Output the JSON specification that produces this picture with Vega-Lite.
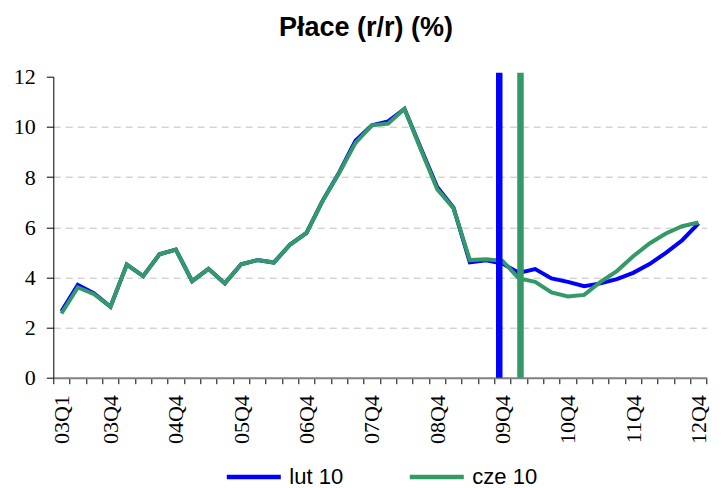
{
  "$schema": "https://vega.github.io/schema/vega-lite/v6.json",
  "width": 653.4,
  "height": 301,
  "autosize": {"type": "none"},
  "padding": {"left": 53.3, "top": 76.7, "right": 15.3, "bottom": 110.3},
  "background": "white",
  "title": {
    "text": "Płace (r/r) (%)",
    "font": "Liberation Sans",
    "fontSize": 27,
    "fontWeight": "bold",
    "color": "black",
    "anchor": "middle",
    "offset": 24,
    "dx": -14
  },
  "datasets": {
    "series": [
      {"i": 0, "q": "03Q1", "series": "lut 10", "value": 2.65},
      {"i": 1, "q": "03Q2", "series": "lut 10", "value": 3.70},
      {"i": 2, "q": "03Q3", "series": "lut 10", "value": 3.36},
      {"i": 3, "q": "03Q4", "series": "lut 10", "value": 2.83},
      {"i": 4, "q": "04Q1", "series": "lut 10", "value": 4.51},
      {"i": 5, "q": "04Q2", "series": "lut 10", "value": 4.05},
      {"i": 6, "q": "04Q3", "series": "lut 10", "value": 4.92},
      {"i": 7, "q": "04Q4", "series": "lut 10", "value": 5.11},
      {"i": 8, "q": "05Q1", "series": "lut 10", "value": 3.85},
      {"i": 9, "q": "05Q2", "series": "lut 10", "value": 4.34},
      {"i": 10, "q": "05Q3", "series": "lut 10", "value": 3.76},
      {"i": 11, "q": "05Q4", "series": "lut 10", "value": 4.52},
      {"i": 12, "q": "06Q1", "series": "lut 10", "value": 4.69},
      {"i": 13, "q": "06Q2", "series": "lut 10", "value": 4.59},
      {"i": 14, "q": "06Q3", "series": "lut 10", "value": 5.31},
      {"i": 15, "q": "06Q4", "series": "lut 10", "value": 5.77},
      {"i": 16, "q": "07Q1", "series": "lut 10", "value": 7.07},
      {"i": 17, "q": "07Q2", "series": "lut 10", "value": 8.18},
      {"i": 18, "q": "07Q3", "series": "lut 10", "value": 9.45},
      {"i": 19, "q": "07Q4", "series": "lut 10", "value": 10.06},
      {"i": 20, "q": "08Q1", "series": "lut 10", "value": 10.22},
      {"i": 21, "q": "08Q2", "series": "lut 10", "value": 10.72},
      {"i": 22, "q": "08Q3", "series": "lut 10", "value": 9.15},
      {"i": 23, "q": "08Q4", "series": "lut 10", "value": 7.60},
      {"i": 24, "q": "09Q1", "series": "lut 10", "value": 6.78},
      {"i": 25, "q": "09Q2", "series": "lut 10", "value": 4.60},
      {"i": 26, "q": "09Q3", "series": "lut 10", "value": 4.68},
      {"i": 27, "q": "09Q4", "series": "lut 10", "value": 4.55},
      {"i": 28, "q": "10Q1", "series": "lut 10", "value": 4.18},
      {"i": 29, "q": "10Q2", "series": "lut 10", "value": 4.33},
      {"i": 30, "q": "10Q3", "series": "lut 10", "value": 3.96},
      {"i": 31, "q": "10Q4", "series": "lut 10", "value": 3.82},
      {"i": 32, "q": "11Q1", "series": "lut 10", "value": 3.65},
      {"i": 33, "q": "11Q2", "series": "lut 10", "value": 3.76},
      {"i": 34, "q": "11Q3", "series": "lut 10", "value": 3.93},
      {"i": 35, "q": "11Q4", "series": "lut 10", "value": 4.18},
      {"i": 36, "q": "12Q1", "series": "lut 10", "value": 4.53},
      {"i": 37, "q": "12Q2", "series": "lut 10", "value": 4.98},
      {"i": 38, "q": "12Q3", "series": "lut 10", "value": 5.48},
      {"i": 39, "q": "12Q4", "series": "lut 10", "value": 6.15},
      {"i": 0, "q": "03Q1", "series": "cze 10", "value": 2.56},
      {"i": 1, "q": "03Q2", "series": "cze 10", "value": 3.60},
      {"i": 2, "q": "03Q3", "series": "cze 10", "value": 3.33},
      {"i": 3, "q": "03Q4", "series": "cze 10", "value": 2.83},
      {"i": 4, "q": "04Q1", "series": "cze 10", "value": 4.51},
      {"i": 5, "q": "04Q2", "series": "cze 10", "value": 4.05},
      {"i": 6, "q": "04Q3", "series": "cze 10", "value": 4.92},
      {"i": 7, "q": "04Q4", "series": "cze 10", "value": 5.11},
      {"i": 8, "q": "05Q1", "series": "cze 10", "value": 3.85},
      {"i": 9, "q": "05Q2", "series": "cze 10", "value": 4.34},
      {"i": 10, "q": "05Q3", "series": "cze 10", "value": 3.76},
      {"i": 11, "q": "05Q4", "series": "cze 10", "value": 4.52},
      {"i": 12, "q": "06Q1", "series": "cze 10", "value": 4.69},
      {"i": 13, "q": "06Q2", "series": "cze 10", "value": 4.59},
      {"i": 14, "q": "06Q3", "series": "cze 10", "value": 5.31},
      {"i": 15, "q": "06Q4", "series": "cze 10", "value": 5.77},
      {"i": 16, "q": "07Q1", "series": "cze 10", "value": 7.07},
      {"i": 17, "q": "07Q2", "series": "cze 10", "value": 8.16},
      {"i": 18, "q": "07Q3", "series": "cze 10", "value": 9.36},
      {"i": 19, "q": "07Q4", "series": "cze 10", "value": 10.06},
      {"i": 20, "q": "08Q1", "series": "cze 10", "value": 10.13},
      {"i": 21, "q": "08Q2", "series": "cze 10", "value": 10.72},
      {"i": 22, "q": "08Q3", "series": "cze 10", "value": 9.10},
      {"i": 23, "q": "08Q4", "series": "cze 10", "value": 7.52},
      {"i": 24, "q": "09Q1", "series": "cze 10", "value": 6.76},
      {"i": 25, "q": "09Q2", "series": "cze 10", "value": 4.69},
      {"i": 26, "q": "09Q3", "series": "cze 10", "value": 4.72},
      {"i": 27, "q": "09Q4", "series": "cze 10", "value": 4.66},
      {"i": 28, "q": "10Q1", "series": "cze 10", "value": 3.96},
      {"i": 29, "q": "10Q2", "series": "cze 10", "value": 3.82},
      {"i": 30, "q": "10Q3", "series": "cze 10", "value": 3.40},
      {"i": 31, "q": "10Q4", "series": "cze 10", "value": 3.24},
      {"i": 32, "q": "11Q1", "series": "cze 10", "value": 3.30},
      {"i": 33, "q": "11Q2", "series": "cze 10", "value": 3.82},
      {"i": 34, "q": "11Q3", "series": "cze 10", "value": 4.25},
      {"i": 35, "q": "11Q4", "series": "cze 10", "value": 4.84},
      {"i": 36, "q": "12Q1", "series": "cze 10", "value": 5.35},
      {"i": 37, "q": "12Q2", "series": "cze 10", "value": 5.75},
      {"i": 38, "q": "12Q3", "series": "cze 10", "value": 6.04},
      {"i": 39, "q": "12Q4", "series": "cze 10", "value": 6.19}
    ],
    "markers": [
      {"series": "lut 10", "pos": 26.8},
      {"series": "cze 10", "pos": 28.1}
    ]
  },
  "layer": [
    {
      "data": {"name": "series"},
      "mark": {"type": "line", "strokeWidth": 4},
      "encoding": {
        "x": {
          "field": "i",
          "type": "quantitative",
          "scale": {"domain": [-0.5, 39.5], "nice": false, "zero": false},
          "axis": {
            "title": null,
            "values": [-0.5, 0.5, 1.5, 2.5, 3.5, 4.5, 5.5, 6.5, 7.5, 8.5, 9.5, 10.5, 11.5, 12.5, 13.5, 14.5, 15.5, 16.5, 17.5, 18.5, 19.5, 20.5, 21.5, 22.5, 23.5, 24.5, 25.5, 26.5, 27.5, 28.5, 29.5, 30.5, 31.5, 32.5, 33.5, 34.5, 35.5, 36.5, 37.5, 38.5, 39.5],
            "tickCount": 100,
            "labelExpr": "indexof([0,3,7,11,15,19,23,27,31,35,39], datum.value + 0.5) >= 0 ? ((floor((datum.value + 0.5) / 4) + 3 < 10 ? '0' : '') + (floor((datum.value + 0.5) / 4) + 3) + 'Q' + (((datum.value + 0.5) % 4) + 1)) : ''",
            "labelAngle": -90,
            "labelOffset": 8.17,
            "labelFont": "Liberation Serif",
            "labelFontSize": 22,
            "labelColor": "black",
            "labelPadding": 11,
            "labelOverlap": false,
            "labelFlush": false,
            "labelBound": false,
            "tickSize": 6,
            "tickColor": "black",
            "tickWidth": 1,
            "domainColor": "#808080",
            "domainWidth": 2,
            "grid": false
          }
        },
        "y": {
          "field": "value",
          "type": "quantitative",
          "scale": {"domain": [0, 12], "nice": false},
          "axis": {
            "title": null,
            "values": [0, 2, 4, 6, 8, 10, 12],
            "labelFont": "Liberation Serif",
            "labelFontSize": 22,
            "labelColor": "black",
            "labelPadding": 11,
            "tickSize": 7,
            "tickColor": "black",
            "domainColor": "black",
            "domainWidth": 1,
            "grid": true,
            "gridColor": "#c0c0c0",
            "gridDash": [7, 5],
            "gridWidth": 1,
            "gridOpacity": {"condition": {"test": "datum.value === 12 || datum.value === 0", "value": 0}, "value": 1}
          }
        },
        "color": {
          "field": "series",
          "type": "nominal",
          "scale": {"domain": ["lut 10", "cze 10"], "range": ["#0000FF", "#339966"]},
          "legend": {
            "title": null,
            "orient": "none",
            "legendX": 171,
            "legendY": 370.6,
            "direction": "horizontal",
            "symbolType": "stroke",
            "symbolSize": 2916,
            "symbolStrokeWidth": 4.5,
            "labelFont": "Liberation Sans",
            "labelFontSize": 22,
            "labelColor": "black",
            "labelOffset": 6,
            "columnPadding": 57,
            "padding": 0
          }
        },
        "order": {"field": "i", "type": "quantitative"}
      }
    },
    {
      "data": {"name": "markers"},
      "mark": {"type": "rule", "strokeWidth": 6.5, "clip": false},
      "encoding": {
        "x": {"field": "pos", "type": "quantitative"},
        "y": {"datum": 0},
        "y2": {"datum": 12.16},
        "color": {"field": "series", "type": "nominal"}
      }
    }
  ],
  "config": {
    "view": {"stroke": null}
  }
}
